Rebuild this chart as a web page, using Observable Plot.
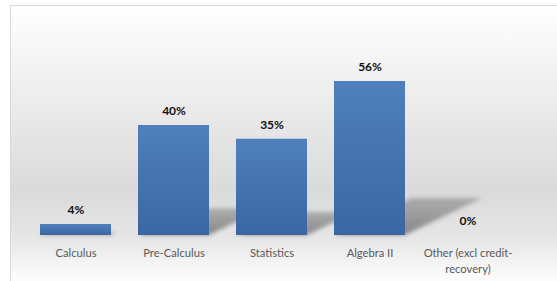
<!DOCTYPE html>
<html>
<head>
<meta charset="utf-8">
<script src="https://cdn.jsdelivr.net/npm/d3@7"></script>
<script src="https://cdn.jsdelivr.net/npm/@observablehq/plot@0.6"></script>
<style>
  html, body { margin: 0; padding: 0; background: #fff; }
  #wrap { position: relative; width: 557px; height: 281px; overflow: hidden; }
  #bg {
    position: absolute; left: 10px; top: 5px; width: 560px; height: 290px;
    border-left: 1px solid #d9d9d9; border-top: 1px solid #d9d9d9;
    background: linear-gradient(to bottom, #ffffff 0px, #f7f7f7 40px, #dadada 185px, #e6e6e6 232px, #fbfbfb 270px, #ffffff 290px);
  }
  #chart { position: absolute; left: 0; top: 0; }
  #chart svg { background: transparent !important; }
</style>
</head>
<body>
<div id="wrap"><div id="bg"></div><div id="chart"></div></div>
<script>
const categories = ["Calculus", "Pre-Calculus", "Statistics", "Algebra II", "Other (excl credit-recovery)"];
const values = [0.04, 0.40, 0.35, 0.56, 0.00];
const tickLabels = ["Calculus", "Pre-Calculus", "Statistics", "Algebra II", "Other (excl credit-\nrecovery)"];

const data = categories.map((c, i) => ({category: c, value: values[i], label: tickLabels[i]}));

const defs = () => {
  const d = d3.create("svg:defs");
  const g = d.append("linearGradient").attr("id", "barGrad").attr("x1", 0).attr("x2", 0).attr("y1", 0).attr("y2", 1);
  g.append("stop").attr("offset", "0%").attr("stop-color", "#4f80bd");
  g.append("stop").attr("offset", "100%").attr("stop-color", "#3a67a1");
  const s = d.append("linearGradient").attr("id", "shadowGrad").attr("x1", 0).attr("x2", 0).attr("y1", 1).attr("y2", 0);
  s.append("stop").attr("offset", "0%").attr("stop-color", "#6e6e6e").attr("stop-opacity", 0.8);
  s.append("stop").attr("offset", "100%").attr("stop-color", "#8a8a8a").attr("stop-opacity", 0.6);
  const f = d.append("filter").attr("id", "blur").attr("x", "-20%").attr("y", "-20%").attr("width", "140%").attr("height", "140%");
  f.append("feGaussianBlur").attr("stdDeviation", 2.2);
  return d.node();
};

const chart = Plot.plot({
  width: 557,
  height: 281,
  marginLeft: 13,
  marginRight: 27,
  marginTop: 70,
  marginBottom: 46,
  style: {background: "transparent", fontFamily: "Lato, sans-serif"},
  x: {domain: categories, padding: 0.2755, axis: null},
  y: {domain: [0, 0.6], axis: null},
  marks: [
    defs,
    Plot.barY(data, {x: "category", y: "value", fill: "url(#barGrad)", inset: 0}),
    Plot.text(data, {x: "category", y: "value", text: d => Math.round(d.value * 100) + "%",
      dy: -14, fontWeight: "bold", fontSize: 12, fill: "#111"}),
    Plot.text(data, {x: "category", y: () => 0, text: "label", lineAnchor: "top", dy: 10,
      lineHeight: 1.45, fontSize: 11.2, fill: "#595959"})
  ]
});

// perspective shadows computed from the plot's own scales
const xs = chart.scale("x"), ys = chart.scale("y");
const bw = xs.bandwidth;
const barGroup = chart.querySelector('g[aria-label="bar"]');
const sg = d3.create("svg:g").attr("aria-label", "shadow").attr("filter", "url(#blur)");
data.forEach(d => {
  const x0 = xs.apply(d.category), x1 = x0 + bw;
  const yb = ys.apply(0), yt = ys.apply(d.value);
  const h = yb - yt;
  const dx = 0.5 * h, dy = 0.24 * h;
  if (h <= 0) return;
  sg.append("polygon")
    .attr("points", [[x0, yb], [x1, yb], [x1 + dx, yb - dy], [x0 + dx, yb - dy]].map(p => p.join(",")).join(" "))
    .attr("fill", "url(#shadowGrad)");
});
barGroup.parentNode.insertBefore(sg.node(), barGroup);

document.getElementById("chart").appendChild(chart);
</script>
</body>
</html>
